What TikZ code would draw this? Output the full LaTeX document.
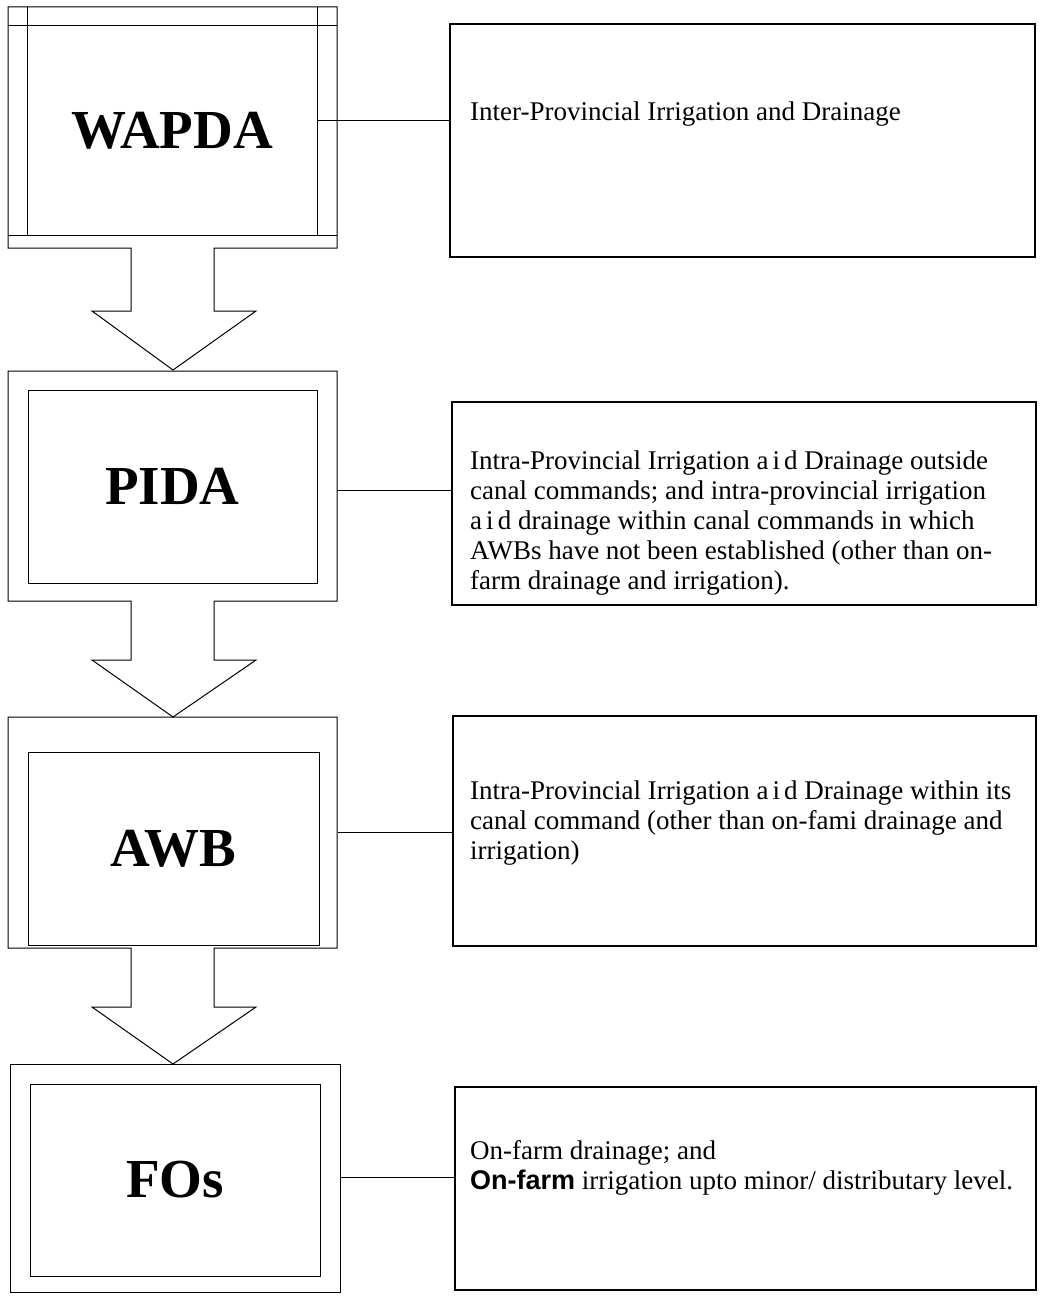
\documentclass[tikz,border=0pt]{standalone}
\usepackage{fontspec}
\setmainfont{Liberation Serif}
\newfontfamily\garblefont{Liberation Sans}
\newcommand{\aid}{a\hspace{.15em}i\hspace{.15em}d}
\tikzset{
	agency/.style = {draw, line width=1pt, inner sep=0pt,
		font=\bfseries\fontsize{55}{62}\selectfont},
	duty/.style = {draw, line width=1.5pt, inner sep=0pt},
	dutytext/.style = {anchor=west, align=left, inner sep=0pt,
		font=\fontsize{27}{30}\selectfont},
	outerframe/.style = {line width=1pt, line join=miter},
	hline/.style = {line width=1pt}
}
\begin{document}
\begin{tikzpicture}[x=1pt, y=-1pt]
		\useasboundingbox (0,0) rectangle (1046,1297);
		% left column
		\node[agency, minimum width=290, minimum height=210] (wapda) at (172,131) {WAPDA};
		\node[agency, minimum width=289, minimum height=193] (pida) at (172.5,486.5) {PIDA};
		\node[agency, minimum width=291, minimum height=193] (awb) at (173.5,848.5) {AWB};
		\node[agency, minimum width=290, minimum height=192] (fos) at (175,1180) {FOs};
		% outer frames with block arrows
		\foreach \top/\bot/\neck/\tip in {7/248/311/370, 371/601/660/717, 717/948/1007/1064}
		{
			\draw[outerframe] (131,\bot) -- (8,\bot) -- (8,\top) -- (337,\top) -- (337,\bot)
				-- (214,\bot) -- (214,\neck) -- (256,\neck) -- (173,\tip) -- (92,\neck)
				-- (131,\neck) -- cycle;
		}
		\draw[outerframe] (10,1064) rectangle (340,1292);
		\draw[outerframe] (8,26) -- (337,26);
		\draw[outerframe] (8,236) -- (337,236);
		\draw[outerframe] (27,7) -- (27,236);
		\draw[outerframe] (317,7) -- (317,236);
		% right column
		\node[duty, minimum width=585, minimum height=233] (r1) at (742.5,140.5) {};
		\node[duty, minimum width=584, minimum height=203] (r2) at (744,503.5) {};
		\node[duty, minimum width=583, minimum height=230] (r3) at (744.5,831) {};
		\node[duty, minimum width=581, minimum height=203] (r4) at (745.5,1188.5) {};
		\node[dutytext] (t1) at (470,114) {Inter-Provincial Irrigation and Drainage};
		\node[dutytext] (t2) at (470,523) {Intra-Provincial Irrigation \aid{} Drainage outside\\
			canal commands; and intra-provincial irrigation\\
			\aid{} drainage within canal commands in which\\
			AWBs have not been established (other than on-\\
			farm drainage and irrigation).};
		\node[dutytext] (t3) at (470,823) {Intra-Provincial Irrigation \aid{} Drainage within its\\
			canal command (other than on-fami drainage and\\
			irrigation)};
		\node[dutytext] (t4) at (470,1168) {On-farm drainage; and\\
			{\garblefont\bfseries On-farm} irrigation upto minor/ distributary level.};
		% links
		\coordinate (j1) at (wapda.east |- 0,121);
		\coordinate (j2) at (337,490);
		\coordinate (j3) at (338,832);
		\coordinate (j4) at (340,1177);
		\draw[hline] (j1) -- (j1 -| r1.west);
		\draw[hline] (j2) -- (j2 -| r2.west);
		\draw[hline] (j3) -- (j3 -| r3.west);
		\draw[hline] (j4) -- (j4 -| r4.west);
\end{tikzpicture}
\end{document}
